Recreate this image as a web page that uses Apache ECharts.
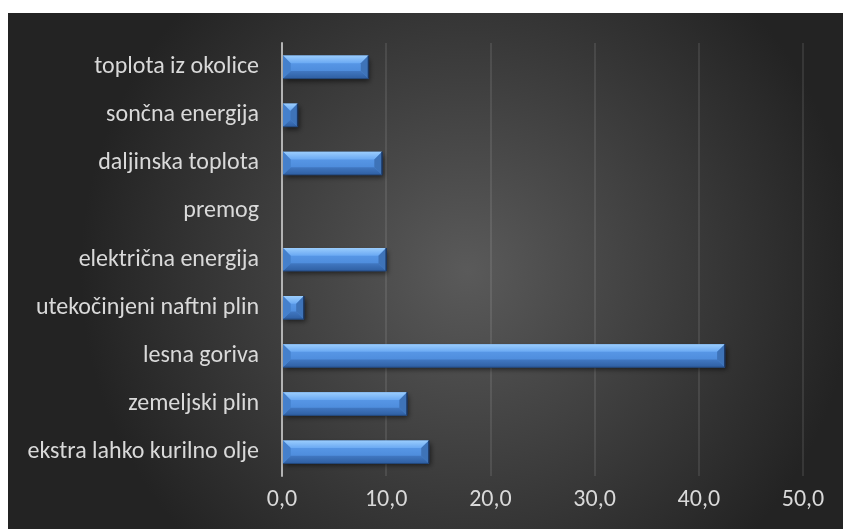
<!DOCTYPE html>
<html>
<head>
<meta charset="utf-8">
<script src="https://cdn.jsdelivr.net/npm/echarts@6/dist/echarts.min.js"></script>
<style>
  html, body { margin: 0; padding: 0; background: #ffffff; }
  #chart { width: 843px; height: 529px; }
</style>
</head>
<body>
<div id="chart"></div>
<script>
// Energy sources, listed top to bottom
const categories = [
  'toplota iz okolice',
  'sončna energija',
  'daljinska toplota',
  'premog',
  'električna energija',
  'utekočinjeni naftni plin',
  'lesna goriva',
  'zemeljski plin',
  'ekstra lahko kurilno olje'
];
const values = [8.3, 1.5, 9.6, 0, 10.0, 2.1, 42.5, 12.0, 14.1];
const xTicks = { min: 0, max: 50, step: 10 };

const FONT = 'Carlito, Calibri, Lato, "Open Sans", sans-serif';

// Bevelled bar: a face with four sloped edges around it
function renderBevelBar(params, api) {
  const cat = api.value(0);
  const val = api.value(1);
  if (!val) return null;
  const start = api.coord([0, cat]);
  const end = api.coord([val, cat]);
  const band = api.size([0, 1])[1];
  const h = band * 0.48;
  const x0 = start[0] + 1, x1 = end[0];
  const y0 = start[1] - h / 2, y1 = start[1] + h / 2;
  const w = x1 - x0;
  const b = Math.min(8, h / 3, w / 2);
  const poly = (pts, fill) => ({ type: 'polygon', shape: { points: pts }, style: { fill: fill }, silent: true });
  const vgrad = (a, c) => new echarts.graphic.LinearGradient(0, 0, 0, 1, [
    { offset: 0, color: a }, { offset: 1, color: c }
  ]);
  return {
    type: 'group',
    children: [
      {
        type: 'rect',
        shape: { x: x0, y: y0, width: w, height: h },
        style: {
          fill: vgrad('#5f9fee', '#4684d4'),
          shadowBlur: 5, shadowOffsetX: 2, shadowOffsetY: 3,
          shadowColor: 'rgba(0,0,0,0.55)'
        }
      },
      poly([[x0, y0], [x1, y0], [x1 - b, y0 + b], [x0 + b, y0 + b]], vgrad('#9bcdfd', '#6aa9f3')),
      poly([[x0, y1], [x1, y1], [x1 - b, y1 - b], [x0 + b, y1 - b]], vgrad('#4178c2', '#2f5fa2')),
      poly([[x0, y0], [x0 + b, y0 + b], [x0 + b, y1 - b], [x0, y1]], '#4580cc'),
      poly([[x1, y0], [x1 - b, y0 + b], [x1 - b, y1 - b], [x1, y1]], '#3e73b8'),
      { type: 'line', shape: { x1: x1, y1: y0, x2: x1, y2: y1 }, style: { stroke: '#1b355e', lineWidth: 1.5 }, silent: true },
      { type: 'line', shape: { x1: x0, y1: y1, x2: x1, y2: y1 }, style: { stroke: '#24487c', lineWidth: 1 }, silent: true }
    ]
  };
}

const chart = echarts.init(document.getElementById('chart'), null, { renderer: 'canvas' });
chart.setOption({
  animation: false,
  backgroundColor: '#ffffff',
  graphic: [{
    type: 'rect',
    left: 8, top: 13, z: -10,
    shape: { width: 835, height: 516 },
    style: {
      fill: new echarts.graphic.RadialGradient(0.55, 0.5, 0.75, [
        { offset: 0, color: '#5a5a5a' },
        { offset: 1, color: '#232323' }
      ])
    },
    silent: true
  }],
  grid: { left: 282, right: 40, top: 43, bottom: 53, containLabel: false },
  xAxis: {
    type: 'value',
    min: xTicks.min, max: xTicks.max, interval: xTicks.step,
    axisLine: { show: false },
    axisTick: { show: false },
    splitLine: { show: true, lineStyle: { color: 'rgba(255,255,255,0.13)', width: 1.5 } },
    axisLabel: {
      color: '#d9d9d9', fontFamily: FONT, fontSize: 24, margin: 12,
      formatter: v => v.toFixed(1).replace('.', ',')
    }
  },
  yAxis: {
    type: 'category',
    data: categories,
    inverse: true,
    axisLine: { show: true, lineStyle: { color: '#b3b3b3', width: 2 } },
    axisTick: { show: false },
    splitLine: { show: false },
    axisLabel: { color: '#d9d9d9', fontFamily: FONT, fontSize: 24, margin: 23 }
  },
  series: [{
    type: 'custom',
    renderItem: renderBevelBar,
    encode: { x: 1, y: 0 },
    data: values.map((v, i) => [i, v]),
    z: 3
  }]
});
</script>
</body>
</html>
